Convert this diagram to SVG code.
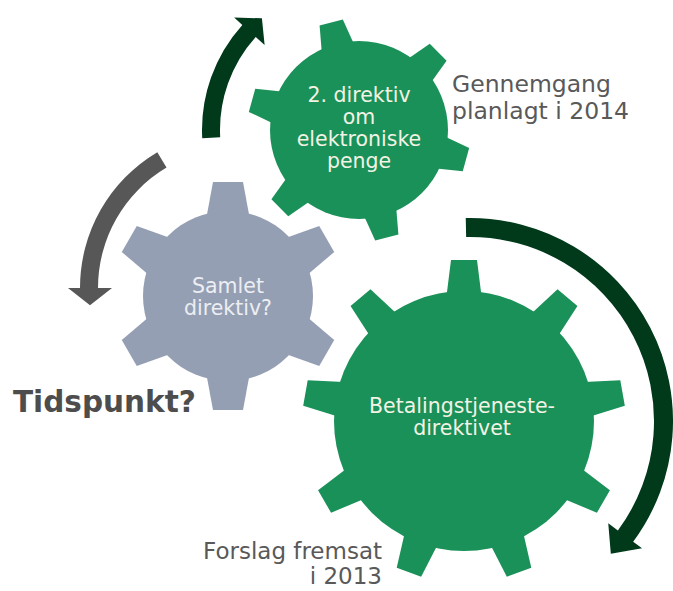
<svg xmlns="http://www.w3.org/2000/svg" xmlns:xlink="http://www.w3.org/1999/xlink" width="673" height="591" viewBox="0 0 673 591">
<style>
.gg{fill:#1a9159}
.gr{fill:#959fb4}
.arr-dk{fill:#01391b}
.arr-gy{fill:#575757}
.lbl{font-family:"DejaVu Sans",Verdana,sans-serif;font-size:20.5px;fill:#f3f3e4;text-anchor:middle}
.lblg{font-family:"DejaVu Sans",Verdana,sans-serif;font-size:20.5px;fill:#eceef2;text-anchor:middle}
.note{font-family:"DejaVu Sans",Verdana,sans-serif;font-size:23.5px;fill:#595959}
.note2{font-family:"DejaVu Sans",Verdana,sans-serif;font-size:23px;fill:#595959;text-anchor:end}
.big{font-family:"DejaVu Sans",Verdana,sans-serif;font-size:29.5px;font-weight:bold;fill:#4d4d4d}
</style>
<defs>
<polygon id="tb" points="-17.5,-125 -13,-161 13,-161 17.5,-125"/>
<polygon id="ts" points="-16.5,-85 -12,-111 12,-111 16.5,-85"/>
<polygon id="tg" points="-21.5,-79 -15,-114 15,-114 21.5,-79"/>
</defs>
<rect width="673" height="591" fill="#ffffff"/>
<g id="connectors">
<path class="arr-dk" d="M202.22,138.22 A157,157 0 0 1 242.33,24.95 L234.15,17.59 L261.9,18.3 L264.62,45.02 L255.7,36.99 A139,139 0 0 0 220.19,137.28 Z"/>
<path class="arr-gy" d="M157.32,152.14 A158,158 0 0 0 80,288 L68,288 L90,305.13 L112,288 L98,288 A140,140 0 0 1 166.51,167.62 Z"/>
<path class="arr-dk" d="M465.75,218.04 A203,203 0 0 1 633.18,541.75 L642.03,548.29 L610.82,553.71 L608.26,523.31 L617.91,530.45 A184,184 0 0 0 466.15,237.04 Z"/>
</g>
<g id="node-samlet">
<g class="gr" transform="translate(228,296)">
<circle r="85"/>
<use xlink:href="#tg"/>
<use xlink:href="#tg" transform="rotate(60)"/>
<use xlink:href="#tg" transform="rotate(120)"/>
<use xlink:href="#tg" transform="rotate(180)"/>
<use xlink:href="#tg" transform="rotate(240)"/>
<use xlink:href="#tg" transform="rotate(300)"/>
</g>
<text class="lblg" x="228" y="293">Samlet</text>
<text class="lblg" x="228" y="315">direktiv?</text>
</g>
<g id="node-emd">
<g class="gg" transform="translate(359,130)">
<circle r="89"/>
<use xlink:href="#ts" transform="rotate(-14.5)"/>
<use xlink:href="#ts" transform="rotate(45.5)"/>
<use xlink:href="#ts" transform="rotate(105.5)"/>
<use xlink:href="#ts" transform="rotate(165.5)"/>
<use xlink:href="#ts" transform="rotate(225.5)"/>
<use xlink:href="#ts" transform="rotate(285.5)"/>
</g>
<text class="lbl" x="359" y="102">2. direktiv</text>
<text class="lbl" x="359" y="124">om</text>
<text class="lbl" x="359" y="146">elektroniske</text>
<text class="lbl" x="359" y="168">penge</text>
</g>
<g id="node-betaling">
<g class="gg" transform="translate(464,421)">
<circle r="130"/>
<use xlink:href="#tb"/>
<use xlink:href="#tb" transform="rotate(40)"/>
<use xlink:href="#tb" transform="rotate(80)"/>
<use xlink:href="#tb" transform="rotate(120)"/>
<use xlink:href="#tb" transform="rotate(160)"/>
<use xlink:href="#tb" transform="rotate(200)"/>
<use xlink:href="#tb" transform="rotate(240)"/>
<use xlink:href="#tb" transform="rotate(280)"/>
<use xlink:href="#tb" transform="rotate(320)"/>
</g>
<text class="lbl" x="462" y="413">Betalingstjeneste-</text>
<text class="lbl" x="462" y="435">direktivet</text>
</g>
<g id="label-gennemgang">
<text class="note" x="452" y="92">Gennemgang</text>
<text class="note" x="452" y="119">planlagt i 2014</text>
</g>
<g id="label-forslag">
<text class="note2" x="382" y="559">Forslag fremsat</text>
<text class="note2" x="382" y="584">i 2013</text>
</g>
<g id="label-tidspunkt">
<text class="big" x="13" y="412">Tidspunkt?</text>
</g>
</svg>
